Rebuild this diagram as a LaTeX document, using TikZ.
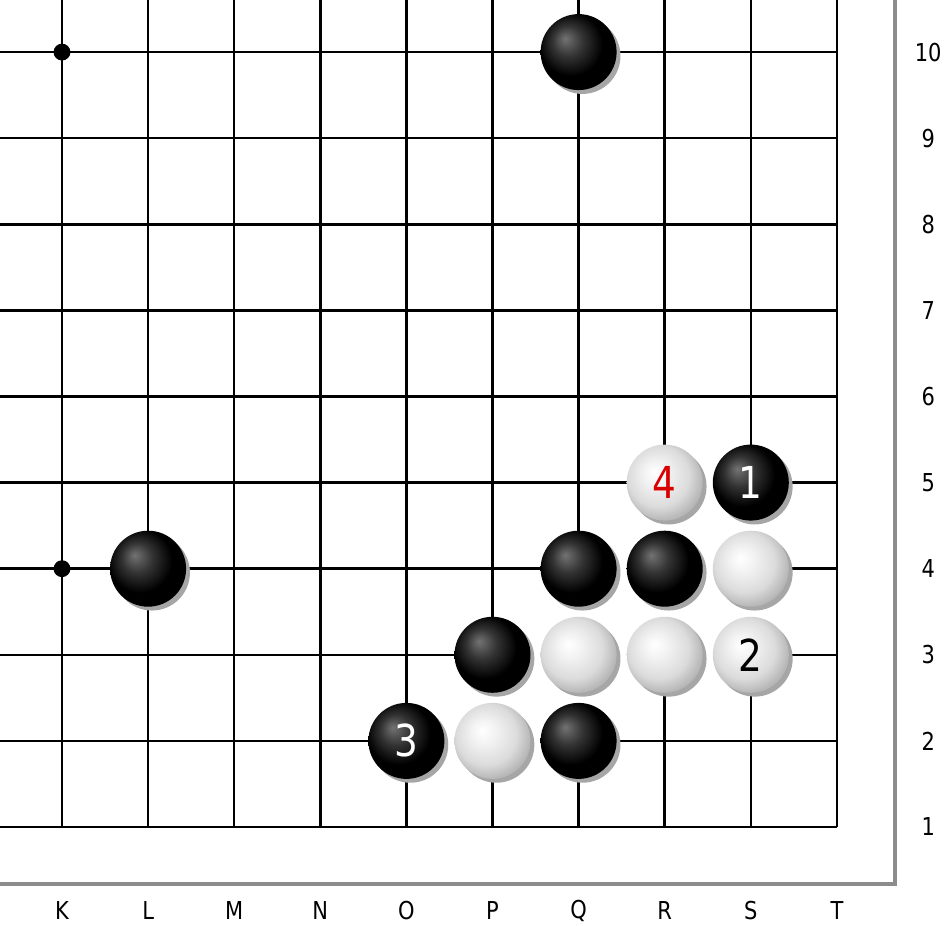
\documentclass[tikz,border=0pt]{standalone}
\usepackage{fontspec}
\setmainfont[FakeStretch=0.85]{DejaVu Sans}
\pgfdeclareradialshading{bshade}{\pgfpoint{-9bp}{9bp}}{color(0bp)=(black!55);color(10bp)=(black!80);color(21bp)=(black);color(50bp)=(black)}
\pgfdeclareradialshading{wshade}{\pgfpoint{-7bp}{7bp}}{color(0bp)=(white);color(8bp)=(black!5);color(20bp)=(black!14);color(30bp)=(black!32);color(50bp)=(black!36)}

\begin{document}
\begin{tikzpicture}[x=64.575pt,y=64.575pt]
  \tikzstyle{every node}=[inner sep=0pt,font=\fontsize{18.5}{18.5}\selectfont]
  \tikzstyle{stone}=[circle,minimum size=57pt,font=\fontsize{33}{33}\selectfont]
  \tikzstyle{bstone}=[stone,shading=bshade,text=white]
  \tikzstyle{wstone}=[stone,shading=wshade,text=black]
  \useasboundingbox (-0.7201,-1.1498) rectangle (10.2439,9.6051);
  % frame
  \draw[line width=3pt,black!45] (-0.75,-0.662) -- (9.675,-0.662) -- (9.675,9.65);
  % grid
  \foreach \i in {0,...,9} {
    \draw[line width=1.9pt] (\i,0) -- (\i,9.65);
    \draw[line width=1.9pt] (-0.75,\i) -- (9,\i);
  }
  \fill (0,9) circle (0.098) (0,3) circle (0.098);
  % no line between touching stones
  \foreach \a/\b in {{7,4}/{8,4},{6,3}/{8,3},{5,2}/{8,2},{4,1}/{6,1},
    {7,4}/{7,2},{8,4}/{8,2},{6,3}/{6,1},{5,2}/{5,1}}
    \draw[line width=4pt,white] (\a) -- (\b);
  % labels
  \foreach \c [count=\i from 0] in {K,L,M,N,O,P,Q,R,S,T}
    \node (l\c) at (\i,-0.975) {\c};
  \foreach \r in {1,...,10}
    \node (n\r) at (10.06,\r-1) {\r};
  % stones
  \foreach \p/\x/\y/\c/\t in {
    Q10/6/9/bstone/{}, L4/1/3/bstone/{}, Q4/6/3/bstone/{}, R4/7/3/bstone/{},
    P3/5/2/bstone/{}, Q2/6/1/bstone/{}, O2/4/1/bstone/3, S5/8/4/bstone/1,
    R5/7/4/wstone/{\color{red!85!black}4}, S4/8/3/wstone/{}, Q3/6/2/wstone/{},
    R3/7/2/wstone/{}, S3/8/2/wstone/2, P2/5/1/wstone/{}} {
    \fill[black!35] (\x+0.045,\y-0.045) circle (0.441);
    \node[\c] (\p) at (\x,\y) {\t};
  }
\end{tikzpicture}
\end{document}
